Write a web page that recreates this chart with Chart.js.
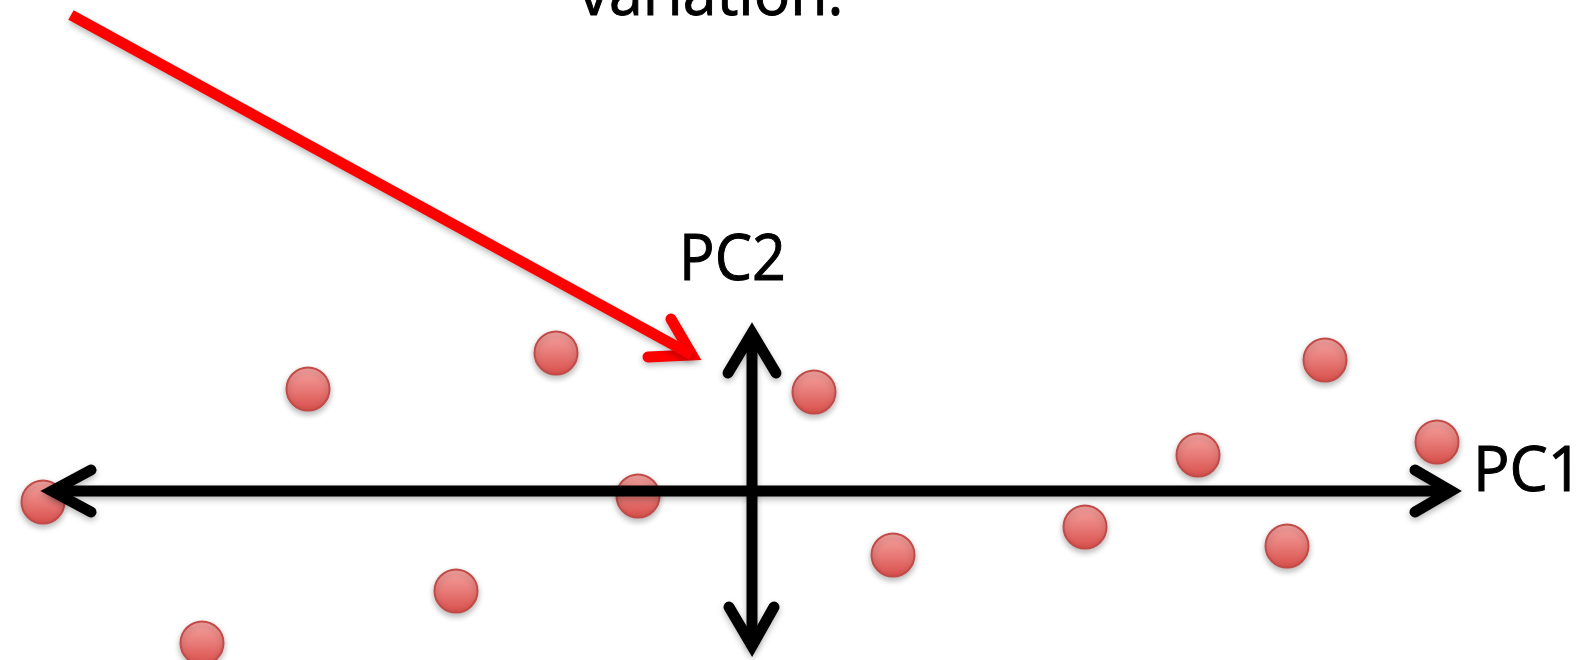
<!DOCTYPE html>
<html>
<head>
<meta charset="utf-8">
<script src="https://cdn.jsdelivr.net/npm/chart.js@4"></script>
<style>
  html, body { margin: 0; padding: 0; background: #fff; }
  canvas { display: block; }
</style>
</head>
<body>
<canvas id="pcaChart" width="1585" height="660"></canvas>
<script>
// sample points (x along PC1, y along PC2)
const sampleX = [-7.09, -4.44, -1.96, -1.14, -2.96, -5.50, 0.62, 1.41, 3.33, 4.46, 5.73, 6.85, 5.35];
const sampleY = [-0.11, 1.02, 1.38, -0.05, -1.00, -1.52, 0.99, -0.64, -0.36, 0.36, 1.31, 0.49, -0.55];

// PC1 axis: shaft + both heads
const pc1Shaft = [[-7.0, 0], [6.99, 0]];
const pc1HeadLeft = [[-6.61, 0.21], [-7.0, 0], [-6.61, -0.21]];
const pc1HeadRight = [[6.63, 0.21], [6.99, 0], [6.63, -0.21]];

// PC2 axis
const pc2Shaft = [[0, 1.58], [0, -1.55]];
const pc2HeadTop = [[-0.24, 1.18], [0, 1.58], [0.24, 1.18]];
const pc2HeadBottom = [[-0.23, -1.16], [0, -1.55], [0.22, -1.16]];

// red pointer arrow
const pointerShaft = [[-6.81, 4.76], [-0.60, 1.36]];
const pointerHead = [[-0.81, 1.72], [-0.60, 1.36], [-1.04, 1.34]];

// text labels
const labelText = ['variation.', 'PC2', 'PC1'];
const labelX = [-0.41, -0.195, 7.21];
const labelY = [4.76, 2.11, 0.0];
const labelAlign = ['center', 'center', 'left'];
const labelSize = [64, 64, 62];
const labelStretch = [0.95, 0.925, 0.98];

const toPoints = arr => arr.map(p => ({ x: p[0], y: p[1] }));

function lineSet(data, color, cap) {
    return {
        data: toPoints(data),
        showLine: true,
        borderColor: color,
        borderWidth: 11,
        borderCapStyle: cap,
        borderJoinStyle: 'miter',
        pointRadius: 0,
        pointHoverRadius: 0,
        fill: false,
        tension: 0,
        clip: false,
        order: 1,
    };
}

const dots = {
    data: sampleX.map((x, i) => ({ x: x, y: sampleY[i] })),
    pointRadius: 21.5,
    pointHoverRadius: 21.5,
    borderWidth: 2,
    borderColor: '#c24b48',
    backgroundColor: function(c) {
        const chart = c.chart;
        if (!chart.chartArea || !c.raw) return '#e46f6b';
        const y = chart.scales.y.getPixelForValue(c.raw.y);
        const g = chart.ctx.createLinearGradient(0, y - 22, 0, y + 22);
        g.addColorStop(0, '#f7a6a3');
        g.addColorStop(1, '#d84f4b');
        return g;
    },
    clip: false,
    order: 10,
};

// soft drop shadow under every mark
const shadowPlugin = {
    id: 'shadow',
    beforeDatasetDraw(chart) {
        const ctx = chart.ctx;
        ctx.save();
        ctx.shadowColor = 'rgba(0,0,0,0.28)';
        ctx.shadowBlur = 6;
        ctx.shadowOffsetY = 3;
    },
    afterDatasetDraw(chart) {
        chart.ctx.restore();
    }
};

const labelPlugin = {
    id: 'labels',
    afterDraw(chart) {
        const ctx = chart.ctx;
        const xs = chart.scales.x, ys = chart.scales.y;
        labelText.forEach((t, i) => {
            ctx.save();
            ctx.font = labelSize[i] + 'px "Open Sans", "Noto Sans", sans-serif';
            ctx.fillStyle = '#000';
            ctx.strokeStyle = '#000';
            ctx.lineWidth = 1;
            ctx.textAlign = labelAlign[i];
            ctx.textBaseline = 'alphabetic';
            ctx.translate(xs.getPixelForValue(labelX[i]), ys.getPixelForValue(labelY[i]));
            ctx.scale(labelStretch[i], 1);
            ctx.fillText(t, 0, 0);
            ctx.strokeText(t, 0, 0);
            ctx.restore();
        });
    }
};

new Chart(document.getElementById('pcaChart').getContext('2d'), {
    type: 'scatter',
    data: {
        datasets: [
            lineSet(pc1Shaft, '#000', 'butt'),
            lineSet(pc1HeadLeft, '#000', 'round'),
            lineSet(pc1HeadRight, '#000', 'round'),
            lineSet(pc2Shaft, '#000', 'butt'),
            lineSet(pc2HeadTop, '#000', 'round'),
            lineSet(pc2HeadBottom, '#000', 'round'),
            lineSet(pointerShaft, '#ff0000', 'butt'),
            lineSet(pointerHead, '#ff0000', 'round'),
            dots,
        ]
    },
    options: {
        responsive: false,
        animation: false,
        events: [],
        layout: { padding: 0, autoPadding: false },
        plugins: {
            legend: { display: false },
            tooltip: { enabled: false },
        },
        scales: {
            x: { type: 'linear', min: -7.52, max: 8.33, display: false },
            y: { type: 'linear', min: -1.69, max: 4.91, display: false },
        },
    },
    plugins: [shadowPlugin, labelPlugin],
});
</script>
</body>
</html>
